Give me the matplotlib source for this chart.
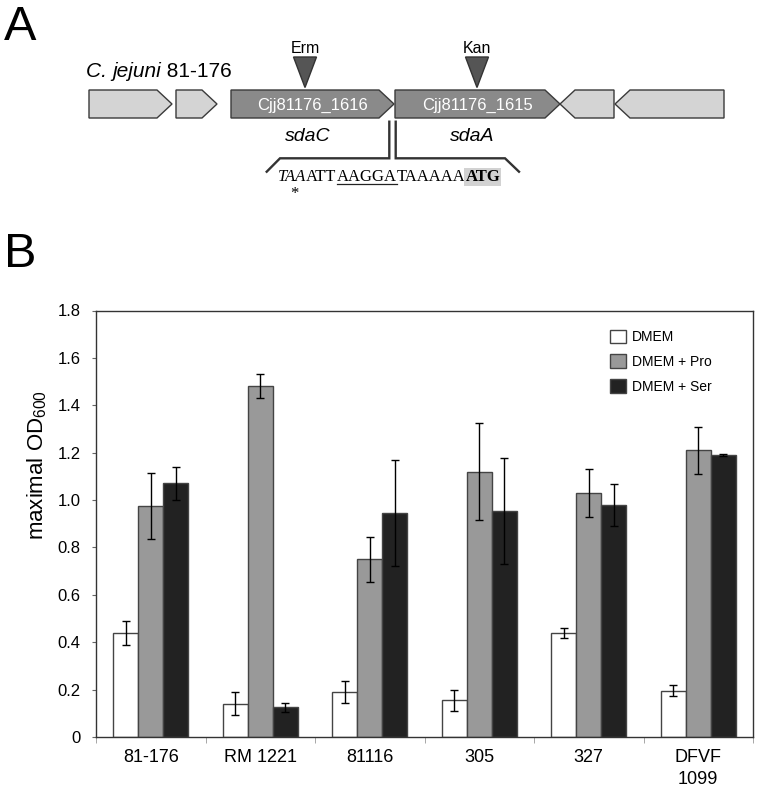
import numpy as np
import matplotlib
matplotlib.use('Agg')
import matplotlib.pyplot as plt
from matplotlib.patches import Polygon

plt.rcParams['font.family'] = ['Liberation Sans', 'DejaVu Sans']
plt.rcParams['mathtext.fontset'] = 'custom'
plt.rcParams['mathtext.rm'] = 'Liberation Sans'
plt.rcParams['mathtext.it'] = 'Liberation Sans:italic'

# panel B data
strains = ['81-176', 'RM 1221', '81116', '305', '327', 'DFVF\n1099']
media = ['DMEM', 'DMEM + Pro', 'DMEM + Ser']
dmem = [0.44, 0.14, 0.19, 0.155, 0.44, 0.195]
dmem_err = [0.05, 0.048, 0.048, 0.044, 0.021, 0.023]
pro = [0.975, 1.48, 0.75, 1.12, 1.03, 1.21]
pro_err = [0.14, 0.05, 0.096, 0.206, 0.10, 0.10]
ser = [1.07, 0.125, 0.944, 0.954, 0.98, 1.19]
ser_err = [0.07, 0.02, 0.224, 0.222, 0.088, 0.004]
yticks = [0, 0.2, 0.4, 0.6, 0.8, 1.0, 1.2, 1.4, 1.6, 1.8]
ytick_labels = ['0', '0.2', '0.4', '0.6', '0.8', '1.0', '1.2', '1.4', '1.6', '1.8']
bar_colors = ['white', '#999999', '#222222']

# panel A gene map (schematic, pixel layout)
gene_start = [89, 176, 231, 395, 560, 615]
gene_end = [172, 217, 394, 560, 614, 724]
gene_dir = [1, 1, 1, 1, -1, -1]
gene_label = ['', '', 'Cjj81176_1616', 'Cjj81176_1615', '', '']
gene_name = ['', '', 'sdaC', 'sdaA', '', '']
insert_label = ['Erm', 'Kan']
insert_pos = [305, 477]
seq_parts = ['TAA', 'ATT', 'AAGGA', 'TAAAAA', 'ATG']

fig = plt.figure(figsize=(7.58, 7.89), dpi=100)

# ---- panel A ----
ax0 = fig.add_axes([0, 0, 1, 1])
ax0.set_xlim(0, 758)
ax0.set_ylim(789, 0)
ax0.axis('off')

ax0.text(4, 40, 'A', fontsize=35, va='baseline', ha='left')
ax0.text(4, 267, 'B', fontsize=35, va='baseline', ha='left')
ax0.text(86, 77, 'C. ', fontsize=15, style='italic', va='baseline')
t = ax0.annotate('jejuni', xy=(1, 0), xycoords=ax0.texts[-1], fontsize=15,
                 style='italic', va='bottom')
ax0.annotate(' 81-176', xy=(1, 0), xycoords=t, fontsize=15, va='bottom')

y0, y1, head = 90, 118, 15
ym = (y0 + y1) / 2
for xs, xe, d, lab, name in zip(gene_start, gene_end, gene_dir, gene_label, gene_name):
    dark = lab != ''
    if d > 0:
        pts = [(xs, y0), (xe - head, y0), (xe, ym), (xe - head, y1), (xs, y1)]
    else:
        pts = [(xe, y0), (xs + head, y0), (xs, ym), (xs + head, y1), (xe, y1)]
    ax0.add_patch(Polygon(pts, closed=True, fc='#8a8a8a' if dark else '#d4d4d4',
                          ec='#3a3a3a', lw=1))
    if dark:
        ax0.text((xs + xe) / 2, ym + 1, lab, color='white', fontsize=12,
                 ha='center', va='center')
        ax0.text((xs + xe) / 2 - 5, 136, name, fontsize=14, style='italic',
                 ha='center', va='center')

for lab, xp in zip(insert_label, insert_pos):
    ax0.add_patch(Polygon([(xp - 11.5, 57), (xp + 11.5, 57), (xp, 87.5)],
                          closed=True, fc='#555555', ec='#333333', lw=1))
    ax0.text(xp, 53, lab, fontsize=11.5, ha='center', va='baseline')

ax0.plot([266.7, 280, 389.3, 389.3], [171.7, 158.3, 158.3, 121.7],
         color='#333333', lw=1.7, solid_joinstyle='miter')
ax0.plot([395.7, 395.7, 505, 519], [121.7, 158.3, 158.3, 171.7],
         color='#333333', lw=1.7, solid_joinstyle='miter')

seq_kw = dict(fontsize=12, family='Liberation Serif')
seq_txt = [ax0.text(278, 181, seq_parts[0], style='italic', va='baseline', **seq_kw)]
for i, part in enumerate(seq_parts[1:], start=1):
    extra = {}
    if i == len(seq_parts) - 1:
        extra = dict(weight='bold',
                     bbox=dict(boxstyle='square,pad=0.08', fc='#d2d2d2', ec='none'))
    seq_txt.append(ax0.annotate(part, xy=(1, 0), xycoords=seq_txt[-1],
                                va='bottom', ha='left', **seq_kw, **extra))
ax0.text(294, 194, '*', fontsize=12, ha='center', va='center',
         family='Liberation Serif')

# ---- panel B ----
ax = fig.add_axes([96 / 758, 1 - 737 / 789, 657 / 758, 426.5 / 789])
x = np.arange(len(strains))
w = 0.228
for i, (vals, errs, c, lab) in enumerate(zip([dmem, pro, ser],
                                             [dmem_err, pro_err, ser_err],
                                             bar_colors, media)):
    ax.bar(x + (i - 1) * w, vals, w, yerr=errs, color=c, edgecolor='#444444',
           lw=1, label=lab,
           error_kw=dict(ecolor='black', elinewidth=1, capsize=3, capthick=1))

ax.set_xlim(-0.5, 5.5)
ax.set_ylim(0, 1.8)
ax.set_xticks(x)
ax.set_xticklabels(strains, fontsize=13, linespacing=1.35)
ax.set_xticks(np.arange(-0.5, 6, 1), minor=True)
ax.tick_params(axis='x', which='major', length=0, pad=9)
ax.tick_params(axis='x', which='minor', length=4, color='#999999')
ax.set_yticks(yticks)
ax.set_yticklabels(ytick_labels, fontsize=12)
ax.tick_params(axis='y', length=3, pad=8, color='#666666')
for s in ax.spines.values():
    s.set_color('#333333')
    s.set_linewidth(1)

ax.set_ylabel('maximal OD$_{600}$', fontsize=16, va='center')
ax.yaxis.set_label_coords(-0.09, 0.638)

ax.legend(loc='upper left', bbox_to_anchor=(0.783, 0.955), frameon=False,
          fontsize=10, handlelength=1.1, handleheight=1.1, handletextpad=0.45,
          labelspacing=0.75, borderpad=0, borderaxespad=0)

# underline for the Shine-Dalgarno part
fig.canvas.draw()
inv = ax0.transData.inverted()
bb = seq_txt[2].get_window_extent()
xa = inv.transform((bb.x0, bb.y0))[0]
xb = inv.transform((bb.x1, bb.y0))[0]
ax0.plot([xa, xb], [183.5, 183.5], color='#222222', lw=0.9)

plt.savefig('out.png', dpi=100)
